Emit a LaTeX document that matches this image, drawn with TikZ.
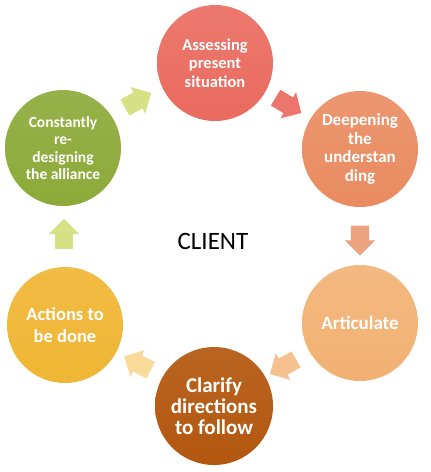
\documentclass[tikz,border=0pt]{standalone}
\usepackage{fontspec}
\setmainfont{Carlito}
\usetikzlibrary{shapes.arrows,calc}

\definecolor{assesscol}{HTML}{EA6A5E}
\definecolor{deepcol}{HTML}{E98B60}
\definecolor{articol}{HTML}{F2B172}
\definecolor{claricol}{HTML}{B3570F}
\definecolor{actcol}{HTML}{F0B634}
\definecolor{redesigncol}{HTML}{8DAA3A}

\tikzset{
  stage/.style 2 args={circle,minimum size=116pt,inner sep=0pt,text=white,
    font=\bfseries\fontsize{#1}{#2}\selectfont,align=center},
  cyclearrow/.style={single arrow,draw=none,inner sep=9pt,
    single arrow head extend=6pt,minimum height=30pt,rotate=#1}
}

\begin{document}
\begin{tikzpicture}[x=1pt,y=-1pt]
  \useasboundingbox (0,0) rectangle (431,472);

  \node[stage={16.5}{18.5},top color=assesscol!90!white,bottom color=assesscol] (assess) at (215,63)
    {Assessing\\present\\situation};
  \node[stage={17}{18.5},top color=deepcol!90!white,bottom color=deepcol] (deepen) at (360,149)
    {Deepening\\the\\understan\\ding};
  \node[stage={19}{21},top color=articol!90!white,bottom color=articol] (articulate) at (360,323)
    {Articulate};
  \node[stage={21}{21},minimum size=118pt,top color=claricol!92!white,bottom color=claricol] (clarify) at (214,406)
    {Clarify\\directions\\to follow};
  \node[stage={18.5}{22},top color=actcol!92!white,bottom color=actcol] (actions) at (65,325)
    {Actions to\\be done};
  \node[stage={15.5}{17.5},top color=redesigncol!92!white,bottom color=redesigncol] (redesign) at (63,148)
    {Constantly\\re-\\designing\\the alliance};

  \node[font=\fontsize{25}{29}\selectfont] (client) at (213,241) {CLIENT};

  % arrows between the stages
  \node[cyclearrow=-31,fill=assesscol!92!white] (a1) at ($(assess)!0.5!(deepen)+(-3,-3)$) {};
  \node[cyclearrow=-90,fill=deepcol!80!white] (a2) at ($(deepen)!0.5!(articulate)$) {};
  \node[cyclearrow=209,fill=articol!80!white] (a3) at ($(articulate)!0.5!(clarify)$) {};
  \node[cyclearrow=152,fill=actcol!50!white] (a4) at ($(clarify)!0.5!(actions)+(2,0)$) {};
  \node[cyclearrow=90,fill=redesigncol!45!white!80!yellow] (a5) at ($(actions)!0.5!(redesign)+(0,2)$) {};
  \node[cyclearrow=29,fill=redesigncol!45!white!80!yellow] (a6) at ($(redesign)!0.5!(assess)+(-5,-3)$) {};
\end{tikzpicture}
\end{document}
